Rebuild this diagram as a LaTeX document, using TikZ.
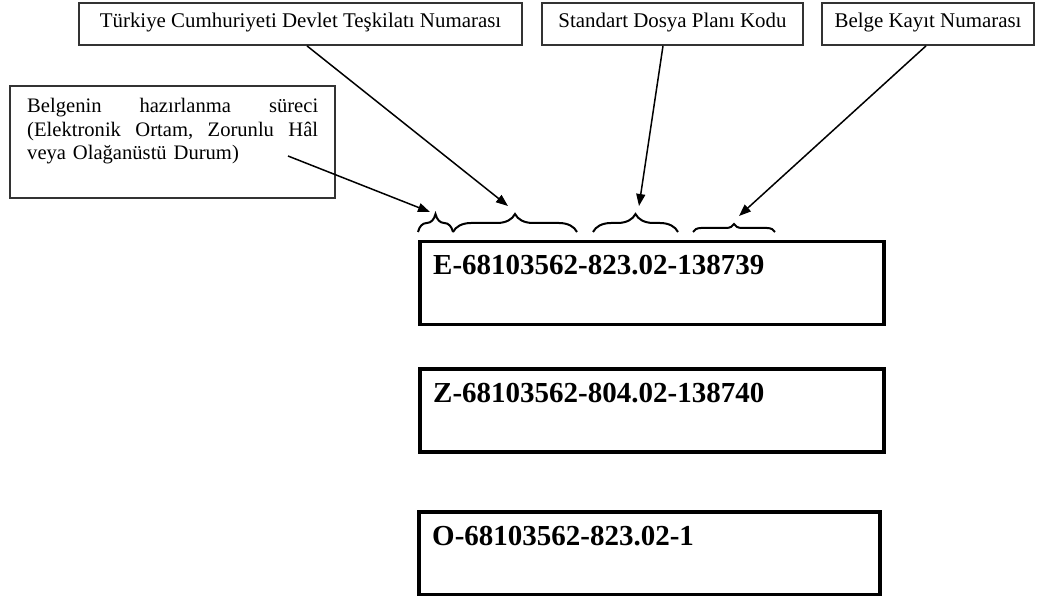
\documentclass[tikz,border=0pt]{standalone}
\usepackage{fontspec}
\setmainfont{Liberation Serif}
\usetikzlibrary{arrows.meta,decorations.pathreplacing}

\tikzset{
  lblbox/.style={draw=black!80, line width=1.8pt, rectangle, inner sep=0pt,
    font=\fontsize{20.9}{23.5}\selectfont, text height=13pt, text depth=5pt},
  codebox/.style={draw=black, line width=3.5pt, rectangle, inner sep=0pt,
    minimum width=464pt, minimum height=83pt, anchor=north west},
  codetext/.style={anchor=base west, inner sep=0pt,
    font=\fontsize{29}{33}\selectfont\bfseries},
  pointer/.style={line width=1.5pt, -{Triangle[length=12pt,width=9pt]}},
  curly/.style={line width=2pt, decorate,
    decoration={brace, amplitude=#1}},
  curly/.default=18pt
}

\begin{document}
\begin{tikzpicture}[x=1pt, y=-1pt]
\useasboundingbox (0,0) rectangle (1037,596);

% label boxes along the top
\node[lblbox, minimum width=443pt, minimum height=42pt] (org) at (300.5,24)
  {Türkiye Cumhuriyeti Devlet Teşkilatı Numarası};
\node[lblbox, minimum width=261pt, minimum height=42pt] (sdp) at (672.5,24)
  {Standart Dosya Planı Kodu};
\node[lblbox, minimum width=212pt, minimum height=42pt] (bkn) at (928,24)
  {Belge Kayıt Numarası};

% preparation process box on the left
\node[draw=black!80, line width=1.8pt, rectangle, inner sep=0pt,
  minimum width=325pt, minimum height=112pt, anchor=north west] (proc) at (9,85) {};
\node[anchor=base west, inner sep=0pt, text width=291pt, align=left,
  font=\fontsize{20.6}{23.5}\selectfont] (proctext) at (27,113)
  {Belgenin\hfill hazırlanma\hfill süreci\\
   (Elektronik\hfill Ortam,\hfill Zorunlu\hfill Hâl\\
   veya Olağanüstü Durum)};

% braces over the parts of the number
\draw[curly] (418,232) -- (453,232);
\draw[curly] (453,232) -- (577,232);
\draw[curly] (593,232) -- (678,232);
\draw[curly=8pt] (693,232) -- (775,232);

% arrow end points just above the brace tips
\coordinate (tipP) at (430,212);
\coordinate (tipO) at (508,206);
\coordinate (tipS) at (639,206);
\coordinate (tipB) at (739,216);
\coordinate (srcP) at (288,156);

\draw[pointer] (srcP) -- (tipP);
\draw[pointer] ([xshift=6.5pt]org.south) -- (tipO);
\draw[pointer] ([xshift=-9.5pt]sdp.south) -- (tipS);
\draw[pointer] ([xshift=-2pt]bkn.south) -- (tipB);

% the three example numbers
\node[codebox] (boxE) at (418,240) {};
\node[codetext] (codeE) at (433,275) {E-68103562-823.02-138739};

\node[codebox] (boxZ) at (418,367) {};
\node[codetext] (codeZ) at (433,402) {Z-68103562-804.02-138740};

\node[codebox, minimum width=461pt] (boxO) at (417,510) {};
\node[codetext] (codeO) at (432,545) {O-68103562-823.02-1};
\end{tikzpicture}
\end{document}
